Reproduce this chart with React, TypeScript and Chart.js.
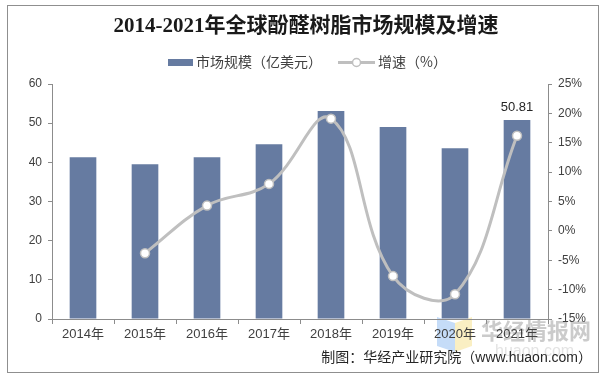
import React, { useEffect, useRef } from "react";
import { Chart, registerables } from "chart.js";

Chart.register(...registerables);

const categories = ["2014年", "2015年", "2016年", "2017年", "2018年", "2019年", "2020年", "2021年"];
const marketSize = [41.3, 39.5, 41.3, 44.6, 53.1, 49.0, 43.6, 50.81];
const growth = [null, -3.8, 4.3, 8.0, 19.1, -7.7, -10.8, 16.2];
const leftTicks = { min: 0, max: 60, step: 10 };
const rightTicks = { min: -15, max: 25, step: 5 };
const titleText = "2014-2021年全球酚醛树脂市场规模及增速";
const barLabel = "市场规模（亿美元）";
const lineLabel = "增速（%）";
const footnote = "制图：华经产业研究院（www.huaon.com）";
const labelledIndex = 7;

const BAR_COLOR = "#667BA1";
const LINE_COLOR = "#BFBFBF";
const AXIS_COLOR = "#8C8C8C";
const TEXT_COLOR = "#404040";
const CJK = "'Noto Sans CJK SC', 'Liberation Sans', sans-serif";
const MIXED = "'Liberation Sans', 'Noto Sans CJK SC', sans-serif";

const decorPlugin = {
  id: "decor",
  beforeDraw(chart: any) {
    const ctx = chart.ctx;
    ctx.save();
    ctx.fillStyle = "#ffffff";
    ctx.fillRect(0, 0, chart.width, chart.height);
    ctx.strokeStyle = "#8F8F8F";
    ctx.lineWidth = 1;
    ctx.strokeRect(7.5, 5.5, 591, 367);
    // watermark
    ctx.globalAlpha = 0.45;
    ctx.fillStyle = "#7FB2F0";
    ctx.beginPath();
    ctx.moveTo(437, 317); ctx.lineTo(455, 323); ctx.lineTo(455, 352); ctx.lineTo(437, 346); ctx.closePath();
    ctx.fill();
    ctx.fillStyle = "#F5DC7A";
    ctx.beginPath();
    ctx.moveTo(455, 323); ctx.lineTo(472, 317); ctx.lineTo(472, 346); ctx.lineTo(455, 352); ctx.closePath();
    ctx.fill();
    ctx.globalAlpha = 1;
    ctx.fillStyle = "rgba(185,185,185,0.75)";
    ctx.font = "bold 22px " + CJK;
    ctx.textAlign = "left";
    ctx.textBaseline = "middle";
    ctx.fillText("华经情报网", 481, 331);
    ctx.fillStyle = "rgba(215,215,215,0.7)";
    ctx.font = "16px 'Liberation Sans', sans-serif";
    ctx.fillText("huaon.com", 495, 352);
    ctx.restore();
  },
  afterDraw(chart: any) {
    const ctx = chart.ctx;
    ctx.save();
    // title
    ctx.fillStyle = "#1A1A1A";
    ctx.font = "bold 21px 'Liberation Serif', 'Noto Sans CJK SC', serif";
    ctx.textAlign = "center";
    ctx.textBaseline = "middle";
    ctx.fillText(titleText, 306, 27);
    // legend
    ctx.fillStyle = BAR_COLOR;
    ctx.fillRect(168, 59, 25, 7);
    ctx.font = "14px " + CJK;
    ctx.fillStyle = TEXT_COLOR;
    ctx.textAlign = "left";
    ctx.fillText(barLabel, 196, 62);
    ctx.strokeStyle = LINE_COLOR;
    ctx.lineWidth = 3;
    ctx.beginPath();
    ctx.moveTo(338, 62.5);
    ctx.lineTo(375, 62.5);
    ctx.stroke();
    ctx.beginPath();
    ctx.arc(356.5, 62.5, 4, 0, Math.PI * 2);
    ctx.fillStyle = "#ffffff";
    ctx.fill();
    ctx.lineWidth = 1.5;
    ctx.stroke();
    ctx.fillStyle = TEXT_COLOR;
    ctx.fillText(lineLabel, 378, 62);
    // footnote
    ctx.font = "14px " + MIXED;
    ctx.fillStyle = "#262626";
    ctx.textAlign = "right";
    ctx.fillText(footnote, 592, 358);
    ctx.restore();
  },
  afterDatasetsDraw(chart: any) {
    const meta = chart.getDatasetMeta(1);
    const el = meta.data[labelledIndex];
    if (!el) return;
    const ctx = chart.ctx;
    ctx.save();
    ctx.font = "13px 'Liberation Sans', sans-serif";
    ctx.fillStyle = "#262626";
    ctx.textAlign = "center";
    ctx.textBaseline = "bottom";
    ctx.fillText(marketSize[labelledIndex].toFixed(2), el.x, el.y - 6);
    ctx.restore();
  },
};

export default function App() {
  const ref = useRef<HTMLCanvasElement | null>(null);
  useEffect(() => {
    if (!ref.current) return;
    const chart = new Chart(ref.current, {
      type: "bar",
      data: {
        labels: categories,
        datasets: [
          {
            type: "line",
            label: lineLabel,
            data: growth,
            yAxisID: "y1",
            borderColor: LINE_COLOR,
            borderWidth: 3,
            tension: 0.4,
            pointRadius: 4.5,
            pointBackgroundColor: "#ffffff",
            pointBorderColor: LINE_COLOR,
            pointBorderWidth: 1.5,
            order: 0,
          } as any,
          {
            type: "bar",
            label: barLabel,
            data: marketSize,
            yAxisID: "y",
            backgroundColor: BAR_COLOR,
            categoryPercentage: 1,
            barPercentage: 0.43,
            order: 1,
          },
        ],
      },
      options: {
        responsive: false,
        animation: false,
        layout: { padding: { top: 84, left: 0, right: 0, bottom: 0 } },
        plugins: { legend: { display: false }, title: { display: false }, tooltip: { enabled: false } },
        scales: {
          x: {
            offset: true,
            grid: { offset: true, drawOnChartArea: false, tickLength: 5, color: AXIS_COLOR },
            border: { color: AXIS_COLOR },
            ticks: { color: TEXT_COLOR, font: { size: 13, family: MIXED }, padding: 3, maxRotation: 0 },
            afterFit: (s: any) => { s.height = 61; },
          },
          y: {
            position: "left",
            min: leftTicks.min,
            max: leftTicks.max,
            ticks: { stepSize: leftTicks.step, color: TEXT_COLOR, font: { size: 12, family: "'Liberation Sans', sans-serif" }, padding: 6 },
            grid: { drawOnChartArea: false, tickLength: 4, color: AXIS_COLOR },
            border: { color: AXIS_COLOR },
            afterFit: (s: any) => { s.width = 52; },
          },
          y1: {
            position: "right",
            min: rightTicks.min,
            max: rightTicks.max,
            ticks: {
              stepSize: rightTicks.step,
              color: TEXT_COLOR,
              font: { size: 12, family: "'Liberation Sans', sans-serif" },
              padding: 6,
              callback: (v: any) => v + "%",
            },
            grid: { drawOnChartArea: false, tickLength: 4, color: AXIS_COLOR },
            border: { color: AXIS_COLOR },
            afterFit: (s: any) => { s.width = 61; },
          },
        },
      },
      plugins: [decorPlugin],
    });
    return () => chart.destroy();
  }, []);
  return (
    <div style={{ position: "fixed", left: 0, top: 0, width: 609, height: 380, background: "#fff" }}>
      <canvas ref={ref} width={609} height={380} style={{ width: 609, height: 380, display: "block" }} />
    </div>
  );
}
